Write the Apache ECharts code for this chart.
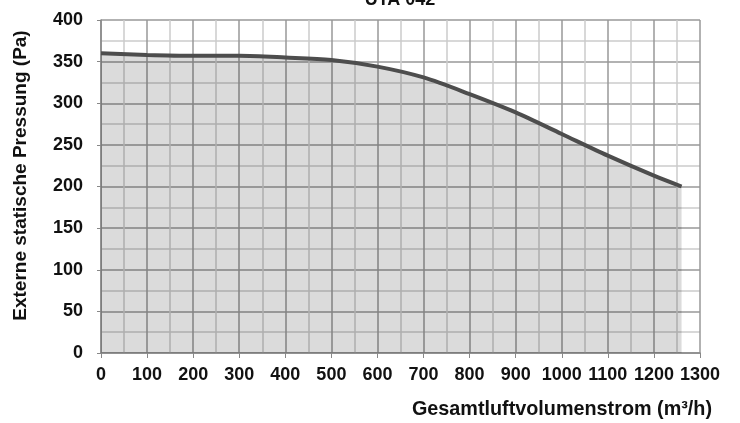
<!DOCTYPE html>
<html>
<head>
<meta charset="utf-8">
<script src="https://cdn.jsdelivr.net/npm/echarts@6/dist/echarts.min.js"></script>
<style>
  html, body { margin: 0; padding: 0; background: #fff; }
  #chart { width: 740px; height: 423px; }
</style>
</head>
<body>
<div id="chart"></div>
<script>
// Fan curve: external static pressure against total airflow
const airflow  = [0, 100, 200, 300, 400, 500, 600, 700, 800, 900, 1000, 1100, 1200, 1260];
const pressure = [360, 358, 357, 357, 355, 352, 344, 331, 311, 289, 263, 237, 213, 200];
const xTicks = [0, 1300, 100];   // min, max, step
const yTicks = [0, 400, 50];

const FONT = '"Liberation Sans", Arial, sans-serif';
const plain = v => String(v);

const chart = echarts.init(document.getElementById('chart'));
chart.setOption({
  animation: false,
  title: {
    text: 'UTA 042',
    left: 395, top: -14, textAlign: 'center',
    textStyle: { fontFamily: FONT, fontWeight: 'bold', fontSize: 18, color: '#111' }
  },
  grid: { left: 101, right: 40, top: 20, bottom: 70 },
  xAxis: {
    type: 'value',
    min: xTicks[0], max: xTicks[1], interval: xTicks[2],
    name: 'Gesamtluftvolumenstrom (m³/h)',
    nameLocation: 'end',
    nameGap: 0,
    nameTextStyle: {
      fontFamily: FONT, fontWeight: 'bold', fontSize: 19.8, color: '#111',
      align: 'right', verticalAlign: 'top', padding: [47, -12, 0, 0]
    },
    axisLine: { show: true, lineStyle: { color: '#888', width: 1.5 } },
    axisTick: { show: true, length: 5, lineStyle: { color: '#888' } },
    axisLabel: { fontFamily: FONT, fontWeight: 'bold', fontSize: 18, color: '#111', margin: 13, formatter: plain },
    splitLine: { show: true, lineStyle: { color: '#999', width: 1.5 } },
    minorTick: { show: false, splitNumber: 2 },
    minorSplitLine: { show: true, lineStyle: { color: '#ccc', width: 1.5 } }
  },
  yAxis: {
    type: 'value',
    min: yTicks[0], max: yTicks[1], interval: yTicks[2],
    name: 'Externe statische Pressung (Pa)',
    nameLocation: 'middle',
    nameGap: 71,
    nameTextStyle: {
      fontFamily: FONT, fontWeight: 'bold', fontSize: 19, color: '#111',
      padding: [0, 0, 0, 22]
    },
    axisLine: { show: true, lineStyle: { color: '#888', width: 1.5 } },
    axisTick: { show: true, length: 4, lineStyle: { color: '#888' } },
    axisLabel: { fontFamily: FONT, fontWeight: 'bold', fontSize: 18, color: '#111', margin: 18, formatter: plain },
    splitLine: { show: true, lineStyle: { color: '#999', width: 1.5 } },
    minorTick: { show: false, splitNumber: 2 },
    minorSplitLine: { show: true, lineStyle: { color: '#ccc', width: 1.5 } }
  },
  series: [{
    type: 'line',
    data: airflow.map((x, i) => [x, pressure[i]]),
    smooth: 0.3,
    symbol: 'none',
    lineStyle: { color: '#4d4d4d', width: 4 },
    areaStyle: { color: 'rgba(0,0,0,0.2)', origin: 'start' }
  }]
});
</script>
</body>
</html>
